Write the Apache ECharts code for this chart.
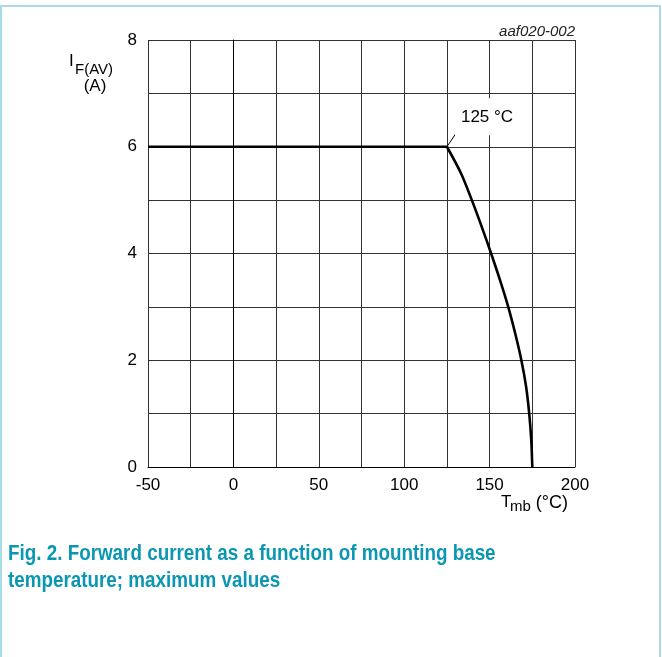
<!DOCTYPE html>
<html>
<head>
<meta charset="utf-8">
<script src="https://cdn.jsdelivr.net/npm/echarts@6/dist/echarts.min.js"></script>
<style>
  html, body { margin: 0; padding: 0; background: #fff; }
  #main { width: 662px; height: 657px; }
</style>
</head>
<body>
<div id="main"></div>
<script>
// axis ranges and tick labels
var xMin = -50, xMax = 200, xStep = 25;
var yMin = 0, yMax = 8, yStep = 1;
var xLabels = [-50, 0, 50, 100, 150, 200];
var yLabels = [0, 2, 4, 6, 8];

// flat part of the limit: 6 A up to 125 degC
var flatT = [-50, 125];
var flatI = [6, 6];

// derating part
var curveT = [125, 133.3, 139.6, 145.4, 150.9, 156.1, 160.9, 165, 168.6, 171.4, 173.2, 174.4, 175];
var curveI = [6, 5.5, 5, 4.5, 4, 3.5, 3, 2.5, 2, 1.5, 1, 0.5, 0];

var kneeLabel = '125 °C';

function pairs(xs, ys) {
  var out = [];
  for (var i = 0; i < xs.length; i++) out.push([xs[i], ys[i]]);
  return out;
}

var chart = echarts.init(document.getElementById('main'), null, { renderer: 'canvas' });
var font = 'Liberation Sans, Arial, sans-serif';
var grid = '#333';
var capFont = 'bold 22px "Liberation Sans", Arial, sans-serif';
var capColor = '#0b97b3';

var option = {
  backgroundColor: '#fff',
  animation: false,
  grid: { left: 148, top: 40, width: 427, height: 427 },
  xAxis: {
    type: 'value',
    min: xMin, max: xMax, interval: xStep,
    axisLine: { show: true, lineStyle: { color: '#000', width: 1 } },
    axisTick: { show: false },
    splitLine: { show: true, lineStyle: { color: grid, width: 1 } },
    axisLabel: {
      margin: 10, color: '#000', fontSize: 17, fontFamily: font,
      formatter: function (v) { return xLabels.indexOf(v) >= 0 ? String(v) : ''; }
    }
  },
  yAxis: {
    type: 'value',
    min: yMin, max: yMax, interval: yStep,
    axisLine: { show: true, lineStyle: { color: '#000', width: 1 } },
    axisTick: { show: false },
    splitLine: { show: true, lineStyle: { color: grid, width: 1 } },
    axisLabel: {
      margin: 11, color: '#000', fontSize: 17, fontFamily: font,
      formatter: function (v) { return yLabels.indexOf(v) >= 0 ? String(v) : ''; }
    }
  },
  series: [
    {
      name: 'flat', type: 'line', data: pairs(flatT, flatI),
      showSymbol: false, symbol: 'none',
      lineStyle: { color: '#000', width: 2.6 }
    },
    {
      name: 'derating', type: 'line', data: pairs(curveT, curveI),
      smooth: 0.3, showSymbol: false, symbol: 'none',
      lineStyle: { color: '#000', width: 2.6 },
      markLine: {
        silent: true, symbol: 'none',
        label: { show: false },
        lineStyle: { color: '#000', width: 1, type: 'solid' },
        data: [[{ coord: [125, 6] }, { coord: [130.3, 6.25] }]]
      },
      markPoint: {
        silent: true, symbol: 'rect', symbolSize: 0,
        data: [{ coord: [148.5, 6.56], value: kneeLabel }],
        label: {
          show: true, position: 'inside', formatter: kneeLabel,
          color: '#000', fontSize: 17, fontFamily: font,
          backgroundColor: '#fff', padding: [10, 6, 10, 6]
        }
      }
    }
  ],
  graphic: [
    {
      type: 'rect', silent: true,
      shape: { x: 1, y: 6, width: 659, height: 700 },
      style: { fill: 'none', stroke: '#a9dde6', lineWidth: 2 }
    },
    {
      type: 'text', x: 575, y: 32,
      style: { text: 'aaf020-002', fill: '#222', font: 'italic 15px ' + font, align: 'right', verticalAlign: 'middle' }
    },
    { type: 'text', x: 69, y: 61, style: { text: 'I', fill: '#000', font: '17px ' + font, verticalAlign: 'middle' } },
    { type: 'text', x: 75, y: 70, style: { text: 'F(AV)', fill: '#000', font: '15px ' + font, verticalAlign: 'middle' } },
    { type: 'text', x: 95, y: 86, style: { text: '(A)', fill: '#000', font: '17px ' + font, align: 'center', verticalAlign: 'middle' } },
    { type: 'text', x: 501, y: 502, style: { text: 'T', fill: '#000', font: '17px ' + font, verticalAlign: 'middle' } },
    { type: 'text', x: 510, y: 507, style: { text: 'mb', fill: '#000', font: '15px ' + font, verticalAlign: 'middle' } },
    { type: 'text', x: 568, y: 503, style: { text: '(°C)', fill: '#000', font: '18px ' + font, align: 'right', verticalAlign: 'middle' } },
    {
      type: 'text', x: 8, y: 554, scaleX: 0.856,
      style: {
        text: 'Fig. 2. Forward current as a function of mounting base',
        fill: capColor, font: capFont, verticalAlign: 'middle'
      }
    },
    {
      type: 'text', x: 8, y: 581, scaleX: 0.856,
      style: {
        text: 'temperature; maximum values',
        fill: capColor, font: capFont, verticalAlign: 'middle'
      }
    }
  ]
};

chart.setOption(option);
</script>
</body>
</html>
